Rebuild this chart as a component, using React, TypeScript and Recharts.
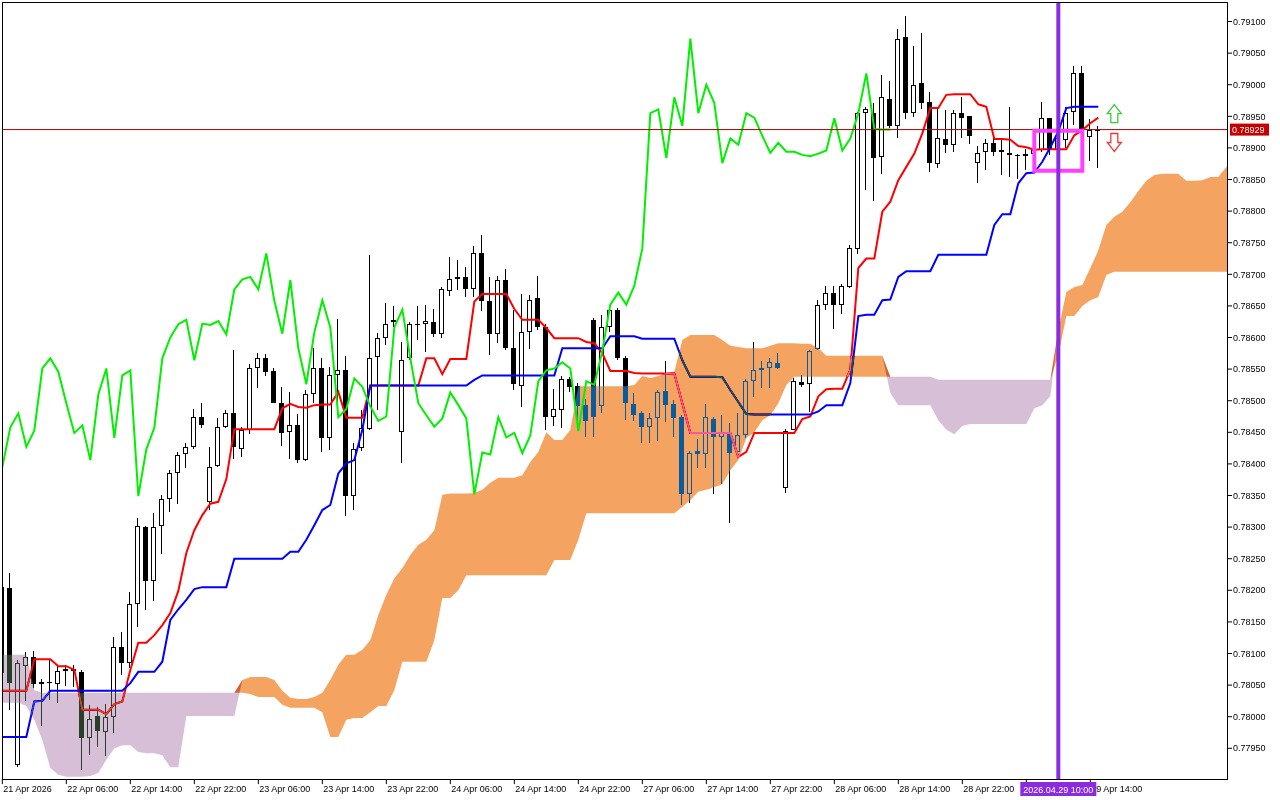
import React from "react";
import {
  ComposedChart,
  Bar,
  Line,
  Area,
  XAxis,
  YAxis,
  CartesianGrid,
  ReferenceLine,
  ReferenceArea,
  ReferenceDot,
} from "recharts";

const FONT = "'Liberation Sans', Arial, sans-serif";

// ---- time axis ----
const timeTicks = [0, 8, 16, 24, 32, 40, 48, 56, 64, 72, 80, 88, 96, 104, 112, 120, 128, 136];
const timeLabels = [
  "21 Apr 2026", "22 Apr 06:00", "22 Apr 14:00", "22 Apr 22:00", "23 Apr 06:00", "23 Apr 14:00",
  "23 Apr 22:00", "24 Apr 06:00", "24 Apr 14:00", "24 Apr 22:00", "27 Apr 06:00", "27 Apr 14:00",
  "27 Apr 22:00", "28 Apr 06:00", "28 Apr 14:00", "28 Apr 22:00", "", "29 Apr 14:00",
];

// ---- price axis ----
const priceTicks = [
  0.7795, 0.78, 0.7805, 0.781, 0.7815, 0.782, 0.7825, 0.783, 0.7835, 0.784, 0.7845, 0.785,
  0.7855, 0.786, 0.7865, 0.787, 0.7875, 0.788, 0.7885, 0.789, 0.7895, 0.79, 0.7905, 0.791,
];

// ---- candles (H1) ----
const open = [
  0.78069, 0.78203, 0.77924, 0.7808, 0.78094, 0.78052, 0.78055, 0.78052, 0.78073, 0.78076,
  0.78071, 0.77966, 0.78001, 0.77976, 0.78, 0.7811, 0.78085, 0.78179, 0.783, 0.78214,
  0.78302, 0.78344, 0.78385, 0.78416, 0.78427, 0.78474, 0.7834, 0.78396, 0.78458, 0.7848,
  0.78424, 0.78453, 0.78551, 0.78567, 0.78547, 0.78497, 0.78451, 0.78462, 0.78406, 0.7851,
  0.78551, 0.78441, 0.7854, 0.78549, 0.7835, 0.78425, 0.78456, 0.78569, 0.786, 0.78624,
  0.7845, 0.78567, 0.78622, 0.78621, 0.78624, 0.78605, 0.78674, 0.78692, 0.78696, 0.78676,
  0.78733, 0.78658, 0.78606, 0.78691, 0.78583, 0.78524, 0.78608, 0.78662, 0.78616, 0.78474,
  0.78485, 0.78535, 0.78523, 0.78493, 0.78627, 0.78491, 0.78617, 0.78644, 0.78567, 0.78495,
  0.7848, 0.78459, 0.78472, 0.78515, 0.78495, 0.78475, 0.78352, 0.7842, 0.78416, 0.78471,
  0.78442, 0.78449, 0.78419, 0.78445, 0.78531, 0.78548, 0.78551, 0.78559, 0.78362, 0.78454,
  0.78529, 0.78526, 0.78582, 0.78652, 0.78671, 0.78652, 0.7868, 0.7874, 0.78955, 0.78956,
  0.78885, 0.78978, 0.78935, 0.79075, 0.78956, 0.79003, 0.78973, 0.78875, 0.78914, 0.78905,
  0.78955, 0.7895, 0.78876, 0.78894, 0.78908, 0.78896, 0.78892, 0.78889, 0.78888, 0.78891,
  0.78896, 0.78947, 0.78896, 0.78912, 0.78957, 0.79018, 0.78917, 0.78929,
];
const high = [
  0.7821, 0.78228, 0.7809, 0.78102, 0.78104, 0.78059, 0.78092, 0.78081, 0.78081, 0.78081,
  0.78074, 0.78018, 0.78016, 0.7802, 0.78126, 0.78134, 0.78197, 0.78315, 0.78302, 0.78322,
  0.78351, 0.7839, 0.78419, 0.78433, 0.78487, 0.78496, 0.78427, 0.78472, 0.78485, 0.78581,
  0.78458, 0.78558, 0.78576, 0.78574, 0.78551, 0.78521, 0.78513, 0.78479, 0.78517, 0.78583,
  0.78567, 0.78554, 0.78629, 0.7857, 0.78433, 0.78485, 0.78731, 0.78607, 0.78654, 0.7865,
  0.78593, 0.78625, 0.7865, 0.78651, 0.78645, 0.7868, 0.78727, 0.78723, 0.78711, 0.78745,
  0.78762, 0.78696, 0.78697, 0.78708, 0.78644, 0.78669, 0.78668, 0.78697, 0.78621, 0.78518,
  0.78539, 0.78538, 0.78528, 0.78502, 0.78631, 0.78636, 0.78649, 0.78646, 0.78571, 0.78512,
  0.78483, 0.78481, 0.78517, 0.78563, 0.78501, 0.78477, 0.78421, 0.78439, 0.78494, 0.78474,
  0.78478, 0.78464, 0.78481, 0.78534, 0.78593, 0.78563, 0.78567, 0.78575, 0.78456, 0.78536,
  0.78541, 0.78581, 0.78659, 0.78681, 0.78681, 0.78685, 0.78746, 0.78957, 0.78965, 0.78971,
  0.79015, 0.79006, 0.79088, 0.79108, 0.79061, 0.79082, 0.78989, 0.78963, 0.7896, 0.7896,
  0.7898, 0.7895, 0.78903, 0.78914, 0.78915, 0.78914, 0.78965, 0.7889, 0.78899, 0.789,
  0.78972, 0.78947, 0.78935, 0.78964, 0.7903, 0.7903, 0.78945, 0.78934,
];
const low = [
  0.7806, 0.78011, 0.7792, 0.78024, 0.78046, 0.77984, 0.78027, 0.78021, 0.78048, 0.78046,
  0.77915, 0.77939, 0.77953, 0.77937, 0.77974, 0.78066, 0.78077, 0.78142, 0.78169, 0.78182,
  0.78258, 0.78324, 0.78336, 0.78393, 0.78423, 0.78456, 0.78327, 0.78394, 0.78456, 0.78408,
  0.78411, 0.78448, 0.78521, 0.78539, 0.78496, 0.78427, 0.78407, 0.78401, 0.78404, 0.78496,
  0.78418, 0.78422, 0.78477, 0.78317, 0.78327, 0.7842, 0.78454, 0.78485, 0.78588, 0.78617,
  0.78402, 0.78565, 0.78596, 0.78576, 0.78601, 0.78599, 0.78666, 0.78675, 0.78664, 0.78665,
  0.78641, 0.78572, 0.78591, 0.7858, 0.78517, 0.7849, 0.78583, 0.78612, 0.78454, 0.78459,
  0.78456, 0.78514, 0.78454, 0.78442, 0.78443, 0.78481, 0.78609, 0.78564, 0.78469, 0.78467,
  0.78433, 0.78433, 0.78436, 0.78467, 0.78443, 0.78334, 0.78339, 0.78393, 0.78393, 0.78352,
  0.78369, 0.78306, 0.78412, 0.78441, 0.78506, 0.7852, 0.7852, 0.7855, 0.78354, 0.78453,
  0.78522, 0.78483, 0.7858, 0.78643, 0.78613, 0.78638, 0.78678, 0.78733, 0.78833, 0.78816,
  0.78859, 0.78931, 0.78915, 0.78945, 0.78949, 0.78961, 0.78862, 0.78868, 0.78892, 0.78894,
  0.78915, 0.78905, 0.78844, 0.78865, 0.78886, 0.78857, 0.78854, 0.7885, 0.78865, 0.7888,
  0.78893, 0.78889, 0.7889, 0.78899, 0.78936, 0.78926, 0.78878, 0.78868,
];
const close = [
  0.78205, 0.78053, 0.78085, 0.78095, 0.78052, 0.78055, 0.78053, 0.78073, 0.78076, 0.78072,
  0.77967, 0.77997, 0.77978, 0.78, 0.7811, 0.78085, 0.78179, 0.78302, 0.78215, 0.783,
  0.78344, 0.78385, 0.78414, 0.78427, 0.78474, 0.78462, 0.78395, 0.78458, 0.7848, 0.78427,
  0.78453, 0.78551, 0.78567, 0.78546, 0.78496, 0.78449, 0.78461, 0.78406, 0.7851, 0.78551,
  0.78441, 0.7854, 0.78548, 0.78349, 0.78423, 0.78457, 0.78567, 0.786, 0.78621, 0.78628,
  0.78564, 0.78622, 0.7862, 0.78626, 0.78605, 0.78676, 0.78692, 0.78696, 0.78676, 0.78733,
  0.78658, 0.78606, 0.78691, 0.78583, 0.78526, 0.78608, 0.78659, 0.78616, 0.78474, 0.78487,
  0.78535, 0.78522, 0.78491, 0.78468, 0.78475, 0.78616, 0.78644, 0.78567, 0.78496, 0.78477,
  0.78459, 0.78472, 0.78513, 0.78493, 0.78472, 0.78352, 0.78418, 0.78415, 0.78474, 0.78442,
  0.78449, 0.78417, 0.78445, 0.78531, 0.78548, 0.78551, 0.78561, 0.78551, 0.78452, 0.78531,
  0.78525, 0.78579, 0.78652, 0.78671, 0.78652, 0.78682, 0.78741, 0.78955, 0.78961, 0.78884,
  0.7898, 0.78935, 0.79073, 0.78955, 0.79, 0.78971, 0.78876, 0.78915, 0.78905, 0.78955,
  0.78948, 0.78919, 0.78892, 0.78908, 0.78894, 0.78894, 0.78889, 0.78887, 0.78891, 0.78896,
  0.78947, 0.78896, 0.78915, 0.78955, 0.79018, 0.7893, 0.78929, 0.78929,
];

// ---- Ichimoku lines ----
const tenkan = [
  0.78041, 0.78041, 0.78041, 0.78041, 0.78091, 0.78091, 0.78091, 0.7808, 0.7808, 0.78074,
  0.78011, 0.78011, 0.78011, 0.78004, 0.7802, 0.78024, 0.78074, 0.78117, 0.78117, 0.78129,
  0.78145, 0.78164, 0.78199, 0.78259, 0.78295, 0.78319, 0.78337, 0.7834, 0.78376, 0.78455,
  0.78455, 0.78455, 0.78455, 0.78455, 0.78455, 0.78488, 0.78495, 0.7849, 0.78489, 0.78493,
  0.78494, 0.78494, 0.78514, 0.78473, 0.78473, 0.78473, 0.78524, 0.78524, 0.78524, 0.78524,
  0.78524, 0.78524, 0.78524, 0.78567, 0.78567, 0.78542, 0.78566, 0.78566, 0.78566, 0.78657,
  0.78669, 0.78669, 0.78669, 0.78669, 0.78645, 0.78628, 0.78628, 0.78628, 0.78615, 0.78599,
  0.78599, 0.78599, 0.78599, 0.78593, 0.78591, 0.78575, 0.78547, 0.78547, 0.78547, 0.78544,
  0.78543, 0.78543, 0.78543, 0.78543, 0.78543, 0.78496, 0.78449, 0.78449, 0.78449, 0.78449,
  0.78449, 0.78449, 0.78411, 0.78419, 0.78449, 0.78449, 0.78449, 0.78449, 0.78449, 0.78449,
  0.78471, 0.78475, 0.78507, 0.78518, 0.78519, 0.78519, 0.78549, 0.7871, 0.78725, 0.78725,
  0.78799, 0.78815, 0.78849, 0.7887, 0.78891, 0.78923, 0.78963, 0.78963, 0.78984, 0.78985,
  0.78985, 0.78985, 0.78969, 0.78965, 0.78914, 0.78914, 0.78913, 0.78903, 0.78901, 0.78897,
  0.78898, 0.78898, 0.78898, 0.78898, 0.7892, 0.78928, 0.78939, 0.78948,
];
const kijun = [
  0.77968, 0.77968, 0.77968, 0.77968, 0.78024, 0.78025, 0.78041, 0.78041, 0.78041, 0.78041,
  0.78041, 0.78041, 0.78041, 0.78041, 0.78041, 0.78041, 0.78053, 0.78071, 0.78071, 0.78071,
  0.78087, 0.78153, 0.7817, 0.78185, 0.78202, 0.78205, 0.78205, 0.78205, 0.78205, 0.7825,
  0.7825, 0.7825, 0.7825, 0.7825, 0.7825, 0.7825, 0.78261, 0.78261, 0.7828, 0.78303,
  0.78327, 0.78335, 0.78385, 0.78401, 0.78406, 0.78454, 0.78524, 0.78524, 0.78524, 0.78524,
  0.78524, 0.78524, 0.78524, 0.78524, 0.78524, 0.78524, 0.78524, 0.78524, 0.78524, 0.78533,
  0.7854, 0.7854, 0.7854, 0.7854, 0.7854, 0.7854, 0.7854, 0.7854, 0.7854, 0.7854,
  0.78583, 0.78583, 0.78583, 0.78583, 0.78583, 0.78583, 0.78602, 0.78602, 0.78602, 0.78602,
  0.78598, 0.78598, 0.78598, 0.78598, 0.78598, 0.78564, 0.78538, 0.78538, 0.78538, 0.78538,
  0.78537, 0.78517, 0.78498, 0.78479, 0.78478, 0.78478, 0.78478, 0.78478, 0.78478, 0.78478,
  0.78478, 0.78478, 0.78483, 0.78493, 0.78493, 0.78493, 0.78528, 0.78634, 0.78636, 0.78636,
  0.78659, 0.7866, 0.78696, 0.78705, 0.78705, 0.78705, 0.78705, 0.78731, 0.78731, 0.78731,
  0.78731, 0.78731, 0.78731, 0.78731, 0.78778, 0.78795, 0.78795, 0.78844, 0.7886, 0.78861,
  0.78878, 0.78901, 0.78926, 0.78963, 0.78965, 0.78965, 0.78965, 0.78965,
];
// Senkou spans, already displaced 26 bars forward (index = bar position on chart)
const spanA = [
  0.78022, 0.78022, 0.78022, 0.78017, 0.77995, 0.77963, 0.77919, 0.77908, 0.77905, 0.77905,
  0.77905, 0.77906, 0.77911, 0.77932, 0.7795, 0.77955, 0.77955, 0.77944, 0.77942, 0.77942,
  0.77939, 0.7792, 0.7792, 0.78001, 0.78001, 0.78001, 0.78001, 0.78001, 0.78001, 0.78001,
  0.78058, 0.78063, 0.78063, 0.78063, 0.78058, 0.78041, 0.7803, 0.78028, 0.78028, 0.78031,
  0.78038, 0.78058, 0.78082, 0.78098, 0.78098, 0.78106, 0.78121, 0.78161, 0.78193, 0.78219,
  0.78235, 0.78256, 0.78272, 0.7828, 0.78295, 0.78351, 0.78353, 0.78353, 0.78353, 0.78354,
  0.78359, 0.7837, 0.78378, 0.78378, 0.78378, 0.78382, 0.78403, 0.78419, 0.7845, 0.78438,
  0.78438, 0.78454, 0.78523, 0.78523, 0.78523, 0.78523, 0.78523, 0.78523, 0.78523, 0.78525,
  0.78539, 0.78536, 0.78539, 0.78544, 0.78546, 0.78596, 0.78604, 0.78604, 0.78604, 0.78604,
  0.78596, 0.78587, 0.78585, 0.78583, 0.78583, 0.78583, 0.78587, 0.78591, 0.78591, 0.78591,
  0.7859, 0.7859, 0.78583, 0.78571, 0.78571, 0.78571, 0.78571, 0.78571, 0.78571, 0.78571,
  0.78571, 0.78512, 0.78493, 0.78493, 0.78493, 0.78493, 0.78493, 0.78469, 0.78454, 0.78447,
  0.7846, 0.78463, 0.78463, 0.78463, 0.78463, 0.78463, 0.78463, 0.78463, 0.78463, 0.78488,
  0.78493, 0.78507, 0.78612, 0.78672, 0.7868, 0.78683, 0.7871, 0.78738, 0.78778, 0.78791,
  0.78799, 0.78814, 0.78832, 0.78848, 0.78857, 0.78859, 0.78859, 0.78859, 0.78848, 0.78848,
  0.78849, 0.78854, 0.78854, 0.7887, 0.78881,
];
const spanB = [
  0.78098, 0.78098, 0.78098, 0.78098, 0.78042, 0.78038, 0.78038, 0.78038, 0.78038, 0.78038,
  0.78038, 0.78038, 0.78038, 0.78038, 0.78038, 0.78038, 0.78038, 0.78038, 0.78038, 0.78038,
  0.78038, 0.78038, 0.78038, 0.78038, 0.78038, 0.78038, 0.78038, 0.78038, 0.78038, 0.78038,
  0.78038, 0.78036, 0.78031, 0.78031, 0.78031, 0.78019, 0.78014, 0.78014, 0.78014, 0.78014,
  0.78007, 0.77968, 0.77968, 0.77995, 0.77998, 0.77998, 0.78007, 0.78017, 0.78017, 0.78042,
  0.78087, 0.78087, 0.78087, 0.78087, 0.78121, 0.78188, 0.78188, 0.782, 0.78224, 0.78224,
  0.78224, 0.78224, 0.78224, 0.78224, 0.78224, 0.78224, 0.78224, 0.78224, 0.78224, 0.78248,
  0.78248, 0.78248, 0.7828, 0.78322, 0.78322, 0.78322, 0.78322, 0.78322, 0.78322, 0.78322,
  0.78322, 0.78322, 0.78322, 0.78322, 0.78322, 0.78332, 0.78343, 0.78356, 0.78359, 0.78363,
  0.78368, 0.7839, 0.78406, 0.78441, 0.7845, 0.78469, 0.78477, 0.78496, 0.78525, 0.78538,
  0.78538, 0.78538, 0.78538, 0.78538, 0.78538, 0.78538, 0.78538, 0.78538, 0.78538, 0.78538,
  0.78538, 0.78538, 0.78538, 0.78538, 0.78538, 0.78538, 0.78538, 0.78533, 0.78533, 0.78533,
  0.78533, 0.78533, 0.78533, 0.78533, 0.78533, 0.78533, 0.78533, 0.78533, 0.78533, 0.78533,
  0.78533, 0.78533, 0.78572, 0.78634, 0.78634, 0.7865, 0.78659, 0.78664, 0.78699, 0.78704,
  0.78704, 0.78704, 0.78704, 0.78704, 0.78704, 0.78704, 0.78704, 0.78704, 0.78704, 0.78704,
  0.78704, 0.78704, 0.78704, 0.78704, 0.78704,
];

const CHIKOU_SHIFT = 26;
const lastPrice = 0.78929;
const markerBar = 132;
const markerLabel = "2026.04.29 10:00";
const boxBars = [129, 135];
const boxPrices = [0.78864, 0.78927];
const arrowBar = 139;
const upArrowPrice = 0.789544;
const downArrowPrice = 0.789086;

// build the table for the library
const rows: any[] = [];
for (let i = 0; i < spanA.length; i++) {
  const r: any = { i };
  if (i < close.length) {
    r.o = open[i];
    r.c = close[i];
    r.wick = [low[i], high[i]];
    r.body = [Math.min(open[i], close[i]), Math.max(open[i], close[i])];
    r.tenkan = tenkan[i];
    r.kijun = kijun[i];
  }
  if (i + CHIKOU_SHIFT < close.length) r.chikou = close[i + CHIKOU_SHIFT];
  const a = spanA[i];
  const b = spanB[i];
  const top = Math.max(a, b);
  r.cloudUp = [b, top];
  r.cloudDn = [a, top];
  rows.push(r);
}

const WickShape = (p: any) => {
  const { x, y, width, height } = p;
  if (x == null || y == null || isNaN(x) || isNaN(y)) return null;
  const cx = Math.round(x + width / 2 - 0.5);
  return (
    <rect x={cx} y={Math.round(y)} width={1} height={Math.max(1, Math.round(height))} fill="#000" shapeRendering="crispEdges" />
  );
};

const BodyShape = (p: any) => {
  const { x, y, width, height, payload } = p;
  if (x == null || y == null || isNaN(x) || isNaN(y)) return null;
  const X = Math.round(x);
  const Y = Math.round(y);
  const H = Math.max(1, Math.round(y + height) - Y);
  const W = Math.round(width);
  const bull = payload.c >= payload.o;
  if (bull && H > 2) {
    return (
      <rect x={X + 0.5} y={Y + 0.5} width={W - 1} height={H - 1} fill="#fff" stroke="#000" strokeWidth={1} shapeRendering="crispEdges" />
    );
  }
  return <rect x={X} y={Y} width={W} height={H} fill="#000" shapeRendering="crispEdges" />;
};

const XTick = (p: any) => {
  const { x, y, payload } = p;
  const idx = timeTicks.indexOf(payload.value);
  const label = idx >= 0 ? timeLabels[idx] : "";
  if (!label) return null;
  return (
    <text x={x + 1} y={y} dy="0.71em" fontSize={9} fontFamily={FONT} fill="#000" textAnchor="start">
      {label}
    </text>
  );
};

const PriceTag = (p: any) => {
  const vb = p.viewBox || {};
  const x = vb.x + vb.width + 2;
  const y = vb.y;
  return (
    <g>
      <rect x={x} y={y - 6} width={39} height={12} fill="#C40000" />
      <text x={x + 2} y={y + 3.5} fontSize={9} fontFamily={FONT} fill="#fff">
        {lastPrice.toFixed(5)}
      </text>
    </g>
  );
};

const MarkerTag = (p: any) => {
  const vb = p.viewBox || {};
  const x = vb.x;
  const bottom = vb.y + vb.height;
  return (
    <g>
      <rect x={x - 38} y={bottom + 3} width={76} height={14} fill="#8A2BE2" />
      <text x={x} y={bottom + 13.5} fontSize={9} fontFamily={FONT} fill="#fff" textAnchor="middle">
        {markerLabel}
      </text>
    </g>
  );
};

const UpArrow = (p: any) => {
  const { cx, cy } = p;
  if (cx == null) return null;
  const d = `M${cx},${cy - 9} L${cx + 7},${cy} L${cx + 3.5},${cy} L${cx + 3.5},${cy + 9} L${cx - 3.5},${cy + 9} L${cx - 3.5},${cy} L${cx - 7},${cy} Z`;
  return <path d={d} fill="#fff" stroke="#3CCB3C" strokeWidth={1.3} />;
};

const DownArrow = (p: any) => {
  const { cx, cy } = p;
  if (cx == null) return null;
  const d = `M${cx},${cy + 9} L${cx + 7},${cy} L${cx + 3.5},${cy} L${cx + 3.5},${cy - 9} L${cx - 3.5},${cy - 9} L${cx - 3.5},${cy} L${cx - 7},${cy} Z`;
  return <path d={d} fill="#fff" stroke="#F03A3A" strokeWidth={1.3} />;
};

const X_DOMAIN: [number, number] = [-0.04, 153.21];
const Y_DOMAIN: [number, number] = [0.779014, 0.791309];

export default function App() {
  const z: any = (n: number) => ({ zIndex: n });
  return (
    <div style={{ position: "absolute", left: 0, top: 0, width: 1280, height: 800, background: "#fff", fontFamily: FONT }}>
      <style>{`.xorfill { mix-blend-mode: difference; }`}</style>
      <ComposedChart width={1280} height={800} data={rows} margin={{ top: 2, right: 0, bottom: 0, left: 2 }}>
        <CartesianGrid horizontal={false} vertical={false} fill="#ffffff" fillOpacity={1} />
        <XAxis
          xAxisId="main"
          dataKey="i"
          type="number"
          domain={X_DOMAIN}
          allowDataOverflow
          ticks={timeTicks}
          interval={0}
          height={21}
          tickSize={5}
          tickMargin={2}
          axisLine={false}
          tickLine={{ stroke: "#000" }}
          tick={<XTick />}
        />
        <XAxis xAxisId="w" dataKey="i" type="number" domain={X_DOMAIN} allowDataOverflow hide />
        <YAxis
          orientation="right"
          type="number"
          domain={Y_DOMAIN}
          allowDataOverflow
          ticks={priceTicks}
          interval={0}
          width={52}
          tickSize={4}
          tickMargin={1}
          axisLine={false}
          tickLine={{ stroke: "#000" }}
          tick={{ fontSize: 9, fill: "#000", fontFamily: FONT }}
          tickFormatter={(v: number) => v.toFixed(5)}
        />
        <Bar {...z(300)} xAxisId="w" dataKey="wick" barSize={1} shape={<WickShape />} isAnimationActive={false} />
        <Bar {...z(310)} xAxisId="main" dataKey="body" barSize={5} shape={<BodyShape />} isAnimationActive={false} />
        <Line {...z(400)} xAxisId="main" dataKey="tenkan" type="linear" stroke="#FF0000" strokeWidth={2} dot={false} activeDot={false} isAnimationActive={false} />
        <Line {...z(401)} xAxisId="main" dataKey="kijun" type="linear" stroke="#0000FF" strokeWidth={2} dot={false} activeDot={false} isAnimationActive={false} />
        <Area
          {...z(450)}
          xAxisId="main"
          dataKey="cloudUp"
          type="linear"
          stroke="none"
          fill="#0B5B9F"
          fillOpacity={1}
          className="xorfill"
          dot={false}
          activeDot={false}
          isAnimationActive={false}
        />
        <Area
          {...z(451)}
          xAxisId="main"
          dataKey="cloudDn"
          type="linear"
          stroke="none"
          fill="#274027"
          fillOpacity={1}
          className="xorfill"
          dot={false}
          activeDot={false}
          isAnimationActive={false}
        />
        <Line {...z(460)} xAxisId="main" dataKey="chikou" type="linear" stroke="#00F000" strokeWidth={2} dot={false} activeDot={false} isAnimationActive={false} />
        <ReferenceLine {...z(470)} xAxisId="main" y={lastPrice} stroke="#A80000" strokeWidth={1} label={<PriceTag />} />
        <ReferenceArea
          {...z(480)}
          xAxisId="main"
          x1={boxBars[0]}
          x2={boxBars[1]}
          y1={boxPrices[0]}
          y2={boxPrices[1]}
          fill="none"
          fillOpacity={0}
          stroke="#FF40FF"
          strokeWidth={4}
        />
        <ReferenceLine {...z(2500)} xAxisId="main" x={markerBar} stroke="#8A2BE2" strokeWidth={4} label={<MarkerTag />} />
        <ReferenceDot {...z(490)} xAxisId="main" x={arrowBar} y={upArrowPrice} r={8} shape={(p: any) => <UpArrow {...p} />} />
        <ReferenceDot {...z(490)} xAxisId="main" x={arrowBar} y={downArrowPrice} r={8} shape={(p: any) => <DownArrow {...p} />} />
      </ComposedChart>
      <div
        style={{
          position: "absolute",
          left: 2,
          top: 2,
          width: 1226,
          height: 778,
          border: "1px solid #000",
          boxSizing: "border-box",
          pointerEvents: "none",
        }}
      />
    </div>
  );
}
